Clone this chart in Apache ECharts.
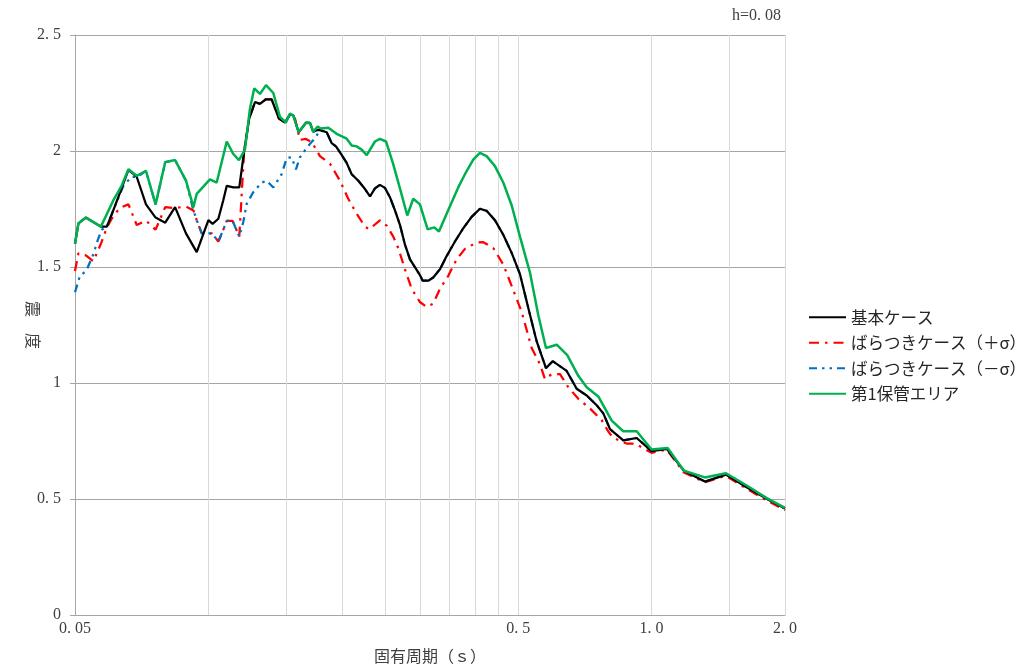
<!DOCTYPE html>
<html>
<head>
<meta charset="utf-8">
<script src="https://cdn.jsdelivr.net/npm/echarts@6/dist/echarts.min.js"></script>
<style>
html,body{margin:0;padding:0;background:#fff;}
#chart{width:1032px;height:669px;}
</style>
</head>
<body>
<div id="chart"></div>
<script>
// ---- data (period [s], seismic intensity) ----
const seriesNames = ['基本ケース', 'ばらつきケース（＋σ）', 'ばらつきケース（－σ）', '第1保管エリア'];

const baseT = [0.05, 0.0509, 0.0529, 0.0572, 0.0590, 0.0610, 0.0632, 0.0660, 0.0689, 0.0723, 0.0760, 0.0799, 0.0841, 0.0890, 0.0941, 0.1000, 0.1022, 0.1053, 0.1080, 0.1100, 0.1138, 0.1174, 0.1204, 0.1236, 0.1274, 0.1307, 0.1346, 0.1389, 0.1443, 0.1488, 0.1528, 0.1554, 0.1598, 0.1660, 0.1695, 0.1724, 0.1755, 0.1785, 0.1849, 0.1897, 0.1940, 0.1998, 0.2051, 0.2105, 0.2179, 0.2256, 0.2315, 0.2376, 0.2438, 0.2502, 0.2568, 0.2636, 0.2705, 0.2777, 0.2850, 0.2960, 0.3001, 0.3044, 0.3134, 0.3216, 0.3330, 0.3448, 0.3600, 0.3759, 0.3926, 0.4099, 0.4244, 0.4431, 0.4627, 0.4833, 0.5047, 0.5297, 0.5505, 0.5777, 0.5982, 0.6433, 0.6776, 0.7138, 0.7518, 0.7781, 0.8057, 0.8633, 0.9256, 1.0, 1.082, 1.183, 1.319, 1.472, 1.639, 1.819, 2.0];
const baseV = [1.60, 1.688, 1.713, 1.674, 1.674, 1.744, 1.822, 1.919, 1.889, 1.770, 1.713, 1.691, 1.758, 1.645, 1.564, 1.702, 1.686, 1.708, 1.787, 1.850, 1.843, 1.843, 1.999, 2.140, 2.211, 2.203, 2.222, 2.222, 2.140, 2.123, 2.157, 2.154, 2.081, 2.122, 2.121, 2.083, 2.090, 2.090, 2.081, 2.034, 2.020, 1.983, 1.949, 1.900, 1.872, 1.836, 1.804, 1.839, 1.854, 1.841, 1.801, 1.744, 1.682, 1.596, 1.533, 1.483, 1.465, 1.441, 1.441, 1.455, 1.490, 1.547, 1.610, 1.667, 1.716, 1.751, 1.742, 1.702, 1.639, 1.561, 1.469, 1.306, 1.179, 1.064, 1.094, 1.052, 0.975, 0.946, 0.904, 0.869, 0.801, 0.753, 0.763, 0.706, 0.716, 0.622, 0.575, 0.605, 0.551, 0.501, 0.459];

const plusT = [0.05, 0.0509, 0.0529, 0.0550, 0.0572, 0.0590, 0.0610, 0.0632, 0.0660, 0.0689, 0.0723, 0.0760, 0.0799, 0.0841, 0.0890, 0.0925, 0.0941, 0.0966, 0.1018, 0.1053, 0.1080, 0.1100, 0.1134, 0.1174, 0.1204, 0.1236, 0.1274, 0.1307, 0.1346, 0.1389, 0.1443, 0.1488, 0.1528, 0.1568, 0.1609, 0.1660, 0.1712, 0.1785, 0.1881, 0.1981, 0.2068, 0.2160, 0.2256, 0.2307, 0.2438, 0.2525, 0.2613, 0.2682, 0.2777, 0.2875, 0.3001, 0.3108, 0.3216, 0.3330, 0.3477, 0.3632, 0.3792, 0.4030, 0.4170, 0.4392, 0.4627, 0.4833, 0.5092, 0.5363, 0.5600, 0.5747, 0.5951, 0.6213, 0.6486, 0.6833, 0.7261, 0.7716, 0.7986, 0.8196, 0.8787, 0.9174, 1.0, 1.082, 1.183, 1.319, 1.472, 1.639, 1.819, 2.0];
const plusV = [1.483, 1.559, 1.550, 1.525, 1.600, 1.670, 1.720, 1.755, 1.770, 1.681, 1.700, 1.661, 1.758, 1.754, 1.761, 1.744, 1.702, 1.645, 1.645, 1.610, 1.660, 1.699, 1.699, 1.631, 1.999, 2.140, 2.211, 2.203, 2.222, 2.222, 2.140, 2.123, 2.157, 2.140, 2.048, 2.052, 2.038, 1.978, 1.945, 1.872, 1.794, 1.730, 1.674, 1.663, 1.701, 1.678, 1.631, 1.581, 1.490, 1.406, 1.349, 1.328, 1.342, 1.406, 1.462, 1.533, 1.578, 1.606, 1.607, 1.582, 1.511, 1.419, 1.306, 1.151, 1.081, 1.017, 1.038, 1.038, 0.982, 0.932, 0.890, 0.840, 0.791, 0.763, 0.739, 0.739, 0.699, 0.713, 0.614, 0.572, 0.600, 0.544, 0.494, 0.452];

const minusT = [0.05, 0.0513, 0.0530, 0.0550, 0.0563, 0.0574, 0.0590, 0.0610, 0.0643, 0.0671, 0.0693, 0.0723, 0.0760, 0.0799, 0.0841, 0.0890, 0.0925, 0.0941, 0.0966, 0.1018, 0.1053, 0.1080, 0.1100, 0.1134, 0.1174, 0.1199, 0.1220, 0.1262, 0.1319, 0.1353, 0.1401, 0.1463, 0.1502, 0.1541, 0.1576, 0.1609, 0.1666, 0.1701, 0.1740, 0.1785, 0.1849, 0.1897, 0.1940, 0.1998, 0.2051, 0.2105, 0.2179, 0.2256, 0.2315, 0.2376, 0.2438, 0.2502, 0.2568, 0.2636, 0.2705, 0.2777, 0.2850, 0.2960, 0.3001, 0.3044, 0.3134, 0.3216, 0.3330, 0.3448, 0.3600, 0.3759, 0.3926, 0.4099, 0.4244, 0.4431, 0.4627, 0.4833, 0.5047, 0.5297, 0.5505, 0.5777, 0.5982, 0.6433, 0.6776, 0.7138, 0.7518, 0.7781, 0.8057, 0.8633, 0.9256, 1.0, 1.082, 1.183, 1.319, 1.472, 1.639, 1.819, 2.0];
const minusV = [1.391, 1.462, 1.483, 1.555, 1.617, 1.660, 1.674, 1.744, 1.850, 1.889, 1.889, 1.914, 1.770, 1.952, 1.961, 1.872, 1.744, 1.702, 1.645, 1.645, 1.610, 1.660, 1.699, 1.699, 1.631, 1.695, 1.772, 1.822, 1.864, 1.872, 1.843, 1.900, 1.970, 1.973, 1.921, 1.973, 2.013, 2.034, 2.055, 2.090, 2.081, 2.034, 2.020, 1.983, 1.949, 1.900, 1.872, 1.836, 1.804, 1.839, 1.854, 1.841, 1.801, 1.744, 1.682, 1.596, 1.533, 1.483, 1.465, 1.441, 1.441, 1.455, 1.490, 1.547, 1.610, 1.667, 1.716, 1.751, 1.742, 1.702, 1.639, 1.561, 1.469, 1.306, 1.179, 1.064, 1.094, 1.052, 0.975, 0.946, 0.904, 0.869, 0.801, 0.753, 0.763, 0.706, 0.716, 0.622, 0.575, 0.605, 0.551, 0.501, 0.459];

const storeT = [0.05, 0.0509, 0.0529, 0.0572, 0.0610, 0.0637, 0.0660, 0.0689, 0.0723, 0.0760, 0.0799, 0.0841, 0.0890, 0.0925, 0.0941, 0.1008, 0.1044, 0.1100, 0.1138, 0.1172, 0.1209, 0.1241, 0.1269, 0.1307, 0.1349, 0.1401, 0.1450, 0.1496, 0.1528, 0.1554, 0.1598, 0.1660, 0.1695, 0.1724, 0.1764, 0.1792, 0.1864, 0.1947, 0.2051, 0.2105, 0.2160, 0.2217, 0.2276, 0.2376, 0.2438, 0.2516, 0.2613, 0.2705, 0.2810, 0.2899, 0.3001, 0.3124, 0.3233, 0.3313, 0.3448, 0.3662, 0.3792, 0.3959, 0.4099, 0.4244, 0.4431, 0.4627, 0.4833, 0.5047, 0.5316, 0.5551, 0.5777, 0.6107, 0.6453, 0.6833, 0.7138, 0.7581, 0.8128, 0.8633, 0.9256, 1.0, 1.087, 1.183, 1.319, 1.472, 1.639, 1.819, 2.0];
const storeV = [1.60, 1.688, 1.713, 1.674, 1.787, 1.850, 1.921, 1.893, 1.914, 1.770, 1.952, 1.961, 1.872, 1.758, 1.815, 1.878, 1.864, 2.041, 1.987, 1.961, 2.006, 2.182, 2.270, 2.246, 2.284, 2.250, 2.147, 2.123, 2.161, 2.154, 2.081, 2.122, 2.121, 2.083, 2.105, 2.097, 2.100, 2.074, 2.053, 2.024, 2.020, 2.006, 1.982, 2.041, 2.052, 2.041, 1.942, 1.839, 1.722, 1.794, 1.770, 1.662, 1.671, 1.653, 1.730, 1.843, 1.900, 1.963, 1.992, 1.978, 1.935, 1.864, 1.766, 1.631, 1.476, 1.292, 1.151, 1.165, 1.120, 1.031, 0.982, 0.942, 0.838, 0.792, 0.792, 0.713, 0.720, 0.622, 0.593, 0.611, 0.558, 0.504, 0.462];

// axis ticks / labels
const xGridValues = [0.05, 0.1, 0.15, 0.2, 0.25, 0.3, 0.35, 0.4, 0.45, 0.5, 1.0, 1.5, 2.0];
const xLabelValues = [0.05, 0.5, 1.0, 2.0];
const xLabelTexts = ['0. 05', '0. 5', '1. 0', '2. 0'];
const yLabelValues = [0, 0.5, 1, 1.5, 2, 2.5];
const yLabelTexts = ['0', '0. 5', '1', '1. 5', '2', '2. 5'];
const dampingText = 'h=0. 08';
const xAxisTitle = '固有周期（ｓ）';
const yAxisTitle = '震　度';

function zip(t, v) { return t.map((x, i) => [x, v[i]]); }
function pick(vals, texts, v) {
  let best = 0, d = Infinity;
  vals.forEach((x, i) => { const dd = Math.abs(Math.log(x) - Math.log(Math.max(v, 1e-9))); if (dd < d) { d = dd; best = i; } });
  return texts[best];
}

const FONT = "'Liberation Serif', 'Noto Sans CJK JP', serif";
const CJK = "'Noto Sans CJK JP', 'Liberation Serif', sans-serif";

const chart = echarts.init(document.getElementById('chart'), null, { renderer: 'canvas' });
chart.setOption({
  animation: false,
  backgroundColor: '#ffffff',
  title: {
    text: dampingText, right: 251, top: 8, padding: 0,
    textStyle: { fontSize: 16, fontWeight: 'normal', fontFamily: FONT, color: '#404040' }
  },
  grid: { left: 75, right: 247, top: 35, bottom: 44, containLabel: false },
  legend: {
    orient: 'vertical', left: 808, top: 309, padding: 0,
    itemWidth: 37, itemHeight: 14, itemGap: 9,
    data: seriesNames,
    itemStyle: { opacity: 0 },
    textStyle: { fontSize: 16.5, fontFamily: CJK, color: '#262626', lineHeight: 16 }
  },
  xAxis: {
    type: 'log', logBase: 10, min: 0.05, max: 2.0,
    name: xAxisTitle, nameLocation: 'middle', nameGap: 33, nameMoveOverlap: false,
    nameTextStyle: { fontSize: 16, fontFamily: CJK, color: '#404040' },
    axisLine: { show: true, lineStyle: { color: '#a6a6a6', width: 1 } },
    axisTick: { show: false, customValues: xGridValues },
    splitLine: { show: true, lineStyle: { color: '#d9d9d9', width: 1 } },
    minorSplitLine: { show: false },
    axisLabel: {
      customValues: xLabelValues, margin: 6,
      fontSize: 16, fontFamily: FONT, color: '#404040',
      formatter: v => pick(xLabelValues, xLabelTexts, v)
    }
  },
  yAxis: {
    type: 'value', min: 0, max: 2.5, interval: 0.5,
    name: yAxisTitle, nameLocation: 'middle', nameRotate: -90, nameGap: 34, nameMoveOverlap: false,
    nameTextStyle: { fontSize: 16, fontFamily: CJK, color: '#404040' },
    axisLine: { show: true, lineStyle: { color: '#a6a6a6', width: 1 } },
    axisTick: { show: true, length: 5, lineStyle: { color: '#a6a6a6' } },
    splitLine: { show: true, lineStyle: { color: '#a6a6a6', width: 1 } },
    axisLabel: {
      margin: 14, fontSize: 16, fontFamily: FONT, color: '#404040',
      formatter: v => yLabelTexts[yLabelValues.findIndex(x => Math.abs(x - v) < 1e-6)] ?? String(v)
    }
  },
  series: [
    {
      name: seriesNames[1], type: 'line', data: zip(plusT, plusV), symbol: 'none', z: 2,
      lineStyle: { color: '#FF0000', width: 2.25, type: [10, 6, 2.5, 6] },
      itemStyle: { color: '#FF0000' }
    },
    {
      name: seriesNames[2], type: 'line', data: zip(minusT, minusV), symbol: 'none', z: 3,
      lineStyle: { color: '#0070C0', width: 2.25, type: [8, 5, 2.5, 5, 2.5, 5] },
      itemStyle: { color: '#0070C0' }
    },
    {
      name: seriesNames[0], type: 'line', data: zip(baseT, baseV), symbol: 'none', z: 4,
      lineStyle: { color: '#000000', width: 2.25 },
      itemStyle: { color: '#000000' }
    },
    {
      name: seriesNames[3], type: 'line', data: zip(storeT, storeV), symbol: 'none', z: 5,
      lineStyle: { color: '#00B050', width: 2.5 },
      itemStyle: { color: '#00B050' }
    }
  ]
});
</script>
</body>
</html>
